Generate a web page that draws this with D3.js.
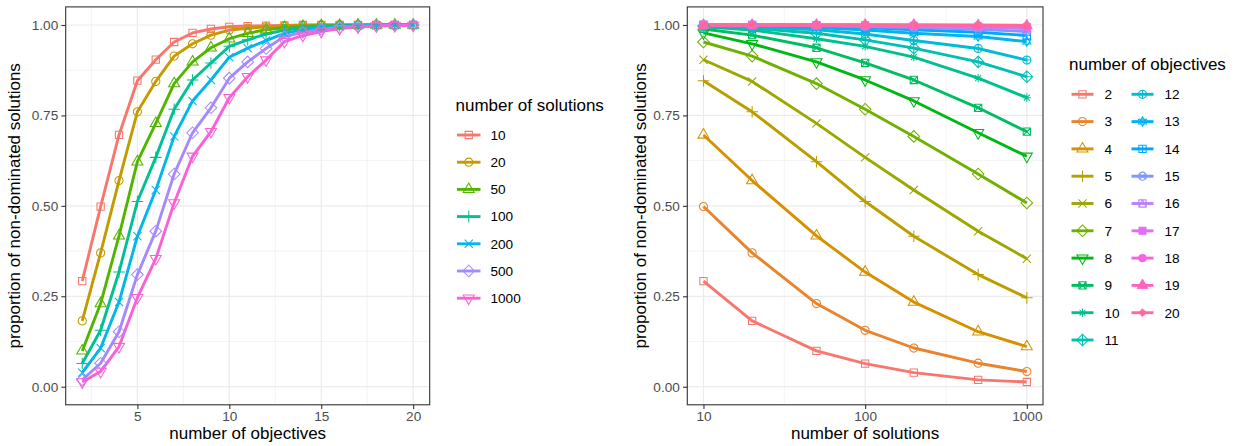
<!DOCTYPE html>
<html><head><meta charset="utf-8">
<script src="https://cdn.jsdelivr.net/npm/d3@7"></script>
<style>
html,body{margin:0;padding:0;background:#fff;}
svg{display:block;font-family:"Liberation Sans",Arial,Helvetica,sans-serif;}
</style></head>
<body><svg id="chart" width="1237" height="446"></svg>
<script>
// ---------------- data ----------------
const objectives = [2,3,4,5,6,7,8,9,10,11,12,13,14,15,16,17,18,19,20];
const solutions = [10,20,50,100,200,500,1000];
// proportion of non-dominated solutions for each number of objectives (values by number of solutions)
const obj2  = [0.292,0.182,0.099,0.064,0.039,0.019,0.013];
const obj3  = [0.498,0.370,0.230,0.156,0.107,0.065,0.042];
const obj4  = [0.696,0.570,0.417,0.317,0.234,0.152,0.111];
const obj5  = [0.846,0.760,0.622,0.512,0.416,0.310,0.246];
const obj6  = [0.904,0.844,0.728,0.634,0.544,0.430,0.354];
const obj7  = [0.953,0.914,0.838,0.767,0.692,0.588,0.508];
const obj8  = [0.978,0.948,0.898,0.848,0.790,0.702,0.637];
const obj9  = [0.989,0.972,0.937,0.895,0.848,0.771,0.705];
const obj10 = [0.995,0.986,0.962,0.941,0.911,0.853,0.799];
const obj11 = [0.997,0.991,0.977,0.959,0.936,0.898,0.857];
const obj12 = [0.998,0.995,0.987,0.975,0.957,0.935,0.903];
const obj13 = [0.999,0.997,0.993,0.986,0.977,0.968,0.954];
const obj14 = [1.000,0.999,0.996,0.993,0.987,0.980,0.971];
const obj15 = [1.000,1.000,0.998,0.996,0.993,0.988,0.982];
const obj16 = [1.000,1.000,0.999,0.998,0.996,0.993,0.990];
const obj17 = [1.000,1.000,1.000,0.999,0.998,0.996,0.994];
const obj18 = [1.000,1.000,1.000,1.000,0.999,0.998,0.997];
const obj19 = [1.000,1.000,1.000,1.000,1.000,0.999,0.998];
const obj20 = [1.000,1.000,1.000,1.000,1.000,1.000,0.999];
const yTicks = [0,0.25,0.5,0.75,1];
const yTickLabels = ["0.00","0.25","0.50","0.75","1.00"];
const leftXTicks = [5,10,15,20];
const rightXTicks = [10,100,1000];

const byObjective = [obj2,obj3,obj4,obj5,obj6,obj7,obj8,obj9,obj10,obj11,obj12,obj13,obj14,obj15,obj16,obj17,obj18,obj19,obj20];

// ---------------- colours (ggplot hue palette, polar LUV) ----------------
function hcl2hex(h, c, l){
  const Xn=95.047, Yn=100, Zn=108.883;
  const den = Xn+15*Yn+3*Zn, un=4*Xn/den, vn=9*Yn/den;
  const hr=h*Math.PI/180, u=c*Math.cos(hr), v=c*Math.sin(hr);
  const Y = l>7.999592 ? Yn*Math.pow((l+16)/116,3) : Yn*l/903.3;
  const up=u/(13*l)+un, vp=v/(13*l)+vn;
  const X = 9*Y*up/(4*vp), Z = Y*(12-3*up-20*vp)/(4*vp);
  const x=X/100,y=Y/100,z=Z/100;
  let r= 3.240479*x-1.537150*y-0.498535*z;
  let g=-0.969256*x+1.875992*y+0.041556*z;
  let b= 0.055648*x-0.204043*y+1.057311*z;
  const gam=t=>{t=t<=0.0031308?12.92*t:1.055*Math.pow(t,1/2.4)-0.055;return Math.max(0,Math.min(1,t));};
  return d3.rgb(gam(r)*255,gam(g)*255,gam(b)*255).formatHex();
}
function huePal(n){
  const out=[];
  for(let i=0;i<n;i++){ out.push(hcl2hex(15+360*i/n,100,65)); }
  return out;
}
const solColors = huePal(solutions.length);
const objColors = huePal(objectives.length);

// ---------------- shapes (R pch 0..18) ----------------
const RAD = 4.1;
function shapeInfo(pch){
  const R=RAD, s2=Math.SQRT2;
  const h=0.886*R;
  const tr0=1.5551*R, tr1=1.3468*R, tr2=0.7776*R;
  const sq=(a)=>`M${-a},${-a}H${a}V${a}H${-a}Z`;
  const circ=(r)=>`M${-r},0A${r},${r} 0 1,0 ${r},0A${r},${r} 0 1,0 ${-r},0Z`;
  const plus=(a)=>`M${-a},0H${a}M0,${-a}V${a}`;
  const times=(a)=>`M${-a},${-a}L${a},${a}M${-a},${a}L${a},${-a}`;
  const dia=(a)=>`M${-a},0L0,${-a}L${a},0L0,${a}Z`;
  const triUp=`M0,${-tr0}L${tr1},${tr2}L${-tr1},${tr2}Z`;
  const triDn=`M0,${tr0}L${tr1},${-tr2}L${-tr1},${-tr2}Z`;
  switch(pch){
    case 0: return {d:sq(h),fill:false};
    case 1: return {d:circ(R),fill:false};
    case 2: return {d:triUp,fill:false};
    case 3: return {d:plus(s2*R),fill:false};
    case 4: return {d:times(R),fill:false};
    case 5: return {d:dia(s2*R),fill:false};
    case 6: return {d:triDn,fill:false};
    case 7: return {d:sq(h)+times(h),fill:false};
    case 8: return {d:plus(R)+times(R*0.72),fill:false};
    case 9: return {d:dia(s2*R)+plus(s2*R),fill:false};
    case 10: return {d:circ(R)+plus(R),fill:false};
    case 11: { const a=1.15*R,b=0.58*R,c=1.0*R;
      return {d:`M0,${-a}L${c},${b}L${-c},${b}Z M0,${a}L${c},${-b}L${-c},${-b}Z`,fill:false}; }
    case 12: return {d:sq(h)+plus(h),fill:false};
    case 13: return {d:circ(R)+times(R*0.707),fill:false};
    case 14: return {d:sq(h)+`M${-h},${h}L0,${-h}L${h},${h}`,fill:false};
    case 15: return {d:sq(h),fill:true};
    case 16: return {d:circ(R*0.95),fill:true};
    case 17: return {d:triUp,fill:true};
    case 18: return {d:dia(R*0.95),fill:true};
  }
}
function drawPoint(g, x, y, pch, color){
  const s=shapeInfo(pch);
  g.append("path").attr("transform",`translate(${x},${y})`).attr("d",s.d)
    .attr("fill",s.fill?color:"none").attr("stroke",color)
    .attr("stroke-width",s.fill?0.8:1.05).attr("stroke-linejoin","miter");
}

// ---------------- layout ----------------
const svg = d3.select("#chart");
const PTOP=6.9, PBOT=404.8;
const LINE_W=2.9;
const y = d3.scaleLinear().domain([-0.05,1.05]).range([PBOT,PTOP]);
const xL = d3.scaleLinear().domain([1.1,20.9]).range([65.7,429.7]);
const xR = d3.scaleLog().domain([Math.pow(10,0.9),Math.pow(10,3.1)]).range([687.3,1043]);

const FS_TEXT=13.6, FS_TITLE=17;

function panel(x, xMajor, xMinor, xTickFmt, xTitle, yTitleX){
  const [x0,x1]=x.range();
  const g=svg.append("g");
  g.append("rect").attr("x",x0).attr("y",PTOP).attr("width",x1-x0).attr("height",PBOT-PTOP).attr("fill","#fff");
  const yMinor=[0.125,0.375,0.625,0.875];
  yMinor.forEach(v=>g.append("line").attr("x1",x0).attr("x2",x1).attr("y1",y(v)).attr("y2",y(v)).attr("stroke","#EBEBEB").attr("stroke-width",0.6));
  xMinor.forEach(v=>g.append("line").attr("x1",x(v)).attr("x2",x(v)).attr("y1",PTOP).attr("y2",PBOT).attr("stroke","#EBEBEB").attr("stroke-width",0.6));
  yTicks.forEach(v=>g.append("line").attr("x1",x0).attr("x2",x1).attr("y1",y(v)).attr("y2",y(v)).attr("stroke","#EBEBEB").attr("stroke-width",1.2));
  xMajor.forEach(v=>g.append("line").attr("x1",x(v)).attr("x2",x(v)).attr("y1",PTOP).attr("y2",PBOT).attr("stroke","#EBEBEB").attr("stroke-width",1.2));
  // axes via d3
  const ax = d3.axisLeft(y).tickValues(yTicks).tickFormat((d,i)=>yTickLabels[i]).tickSize(4.3).tickPadding(3.2);
  const ag = svg.append("g").attr("transform",`translate(${x0},0)`).call(ax);
  const bx = d3.axisBottom(x).tickValues(xMajor).tickFormat(xTickFmt).tickSize(4.3).tickPadding(2.6);
  const bg = svg.append("g").attr("transform",`translate(0,${PBOT})`).call(bx);
  [ag,bg].forEach(a=>{
    a.select(".domain").remove();
    a.selectAll(".tick line").attr("stroke","#333333").attr("stroke-width",1.1);
    a.selectAll(".tick text").attr("fill","#4D4D4D").style("font-size",FS_TEXT+"px").style("font-family","Liberation Sans, Arial, sans-serif");
  });
  svg.append("text").attr("x",(x0+x1)/2).attr("y",439).attr("text-anchor","middle")
    .style("font-size",FS_TITLE+"px").attr("fill","#000").text(xTitle);
  svg.append("text").attr("transform",`translate(${yTitleX},${(PTOP+PBOT)/2}) rotate(-90)`).attr("text-anchor","middle")
    .style("font-size",FS_TITLE+"px").attr("fill","#000").text("proportion of non-dominated solutions");
  return g;
}

const line = d3.line();

// ---------------- left panel ----------------
const gL = panel(xL,leftXTicks,[2.5,7.5,12.5,17.5],d=>d,"number of objectives",19.5);
const dataL = solutions.map((n,j)=>objectives.map((m,i)=>[m,byObjective[i][j]]));
const plotL = svg.append("g");
dataL.forEach((ser,j)=>{
  plotL.append("path").attr("d",line(ser.map(p=>[xL(p[0]),y(p[1])]))).attr("fill","none")
    .attr("stroke",solColors[j]).attr("stroke-width",LINE_W).attr("stroke-linejoin","round");
});
dataL.forEach((ser,j)=>ser.forEach(p=>drawPoint(plotL,xL(p[0]),y(p[1]),j,solColors[j])));
svg.append("rect").attr("x",65.7).attr("y",PTOP).attr("width",429.7-65.7).attr("height",PBOT-PTOP)
  .attr("fill","none").attr("stroke","#333333").attr("stroke-width",1.1);

// ---------------- right panel ----------------
const gR = panel(xR,rightXTicks,[Math.sqrt(10*100),Math.sqrt(100*1000)],d=>d,"number of solutions",645.5);
const plotR = svg.append("g");
const dataR = objectives.map((m,i)=>solutions.map((n,j)=>[n,byObjective[i][j]]));
dataR.forEach((ser,i)=>{
  plotR.append("path").attr("d",line(ser.map(p=>[xR(p[0]),y(p[1])]))).attr("fill","none")
    .attr("stroke",objColors[i]).attr("stroke-width",LINE_W).attr("stroke-linejoin","round");
});
dataR.forEach((ser,i)=>ser.forEach(p=>drawPoint(plotR,xR(p[0]),y(p[1]),i,objColors[i])));
svg.append("rect").attr("x",687.3).attr("y",PTOP).attr("width",1043-687.3).attr("height",PBOT-PTOP)
  .attr("fill","none").attr("stroke","#333333").attr("stroke-width",1.1);

// ---------------- legends ----------------
function legendItem(cx0, cx1, cy, pch, color, label, lx){
  svg.append("line").attr("x1",cx0).attr("x2",cx1).attr("y1",cy).attr("y2",cy)
    .attr("stroke",color).attr("stroke-width",LINE_W);
  drawPoint(svg,(cx0+cx1)/2,cy,pch,color);
  svg.append("text").attr("x",lx).attr("y",cy+4.8).style("font-size",FS_TEXT+"px").attr("fill","#000").text(label);
}
svg.append("text").attr("x",455.5).attr("y",110.5).style("font-size",FS_TITLE+"px").attr("fill","#000").text("number of solutions");
solutions.forEach((n,j)=>legendItem(457,480.5,135+j*27.2,j,solColors[j],String(n),490.5));

svg.append("text").attr("x",1069).attr("y",70).style("font-size",FS_TITLE+"px").attr("fill","#000").text("number of objectives");
objectives.forEach((m,i)=>{
  const col=i<10?0:1, row=i<10?i:i-10;
  const kx = col===0?1071.5:1131.5;
  const lx = col===0?1104.5:1164.5;
  legendItem(kx,kx+22,94.3+row*27.3,i,objColors[i],String(m),lx);
});
</script>
</body></html>
